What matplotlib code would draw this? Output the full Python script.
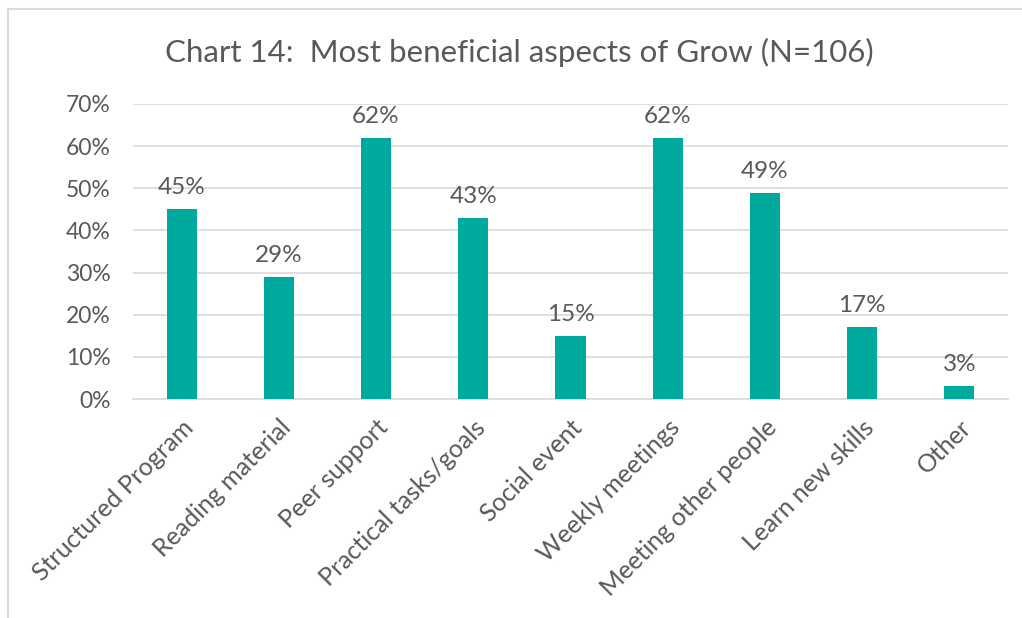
import matplotlib.pyplot as plt
from matplotlib.lines import Line2D
from matplotlib.ticker import FuncFormatter

categories = ["Structured Program", "Reading material", "Peer support",
              "Practical tasks/goals", "Social event", "Weekly meetings",
              "Meeting other people", "Learn new skills", "Other"]
values = [45, 29, 62, 43, 15, 62, 49, 17, 3]
yticks = [0, 10, 20, 30, 40, 50, 60, 70]

grey = "#595959"
teal = "#00A99D"

plt.rcParams["font.family"] = ["Lato", "DejaVu Sans"]

fig = plt.figure(figsize=(10.22, 6.18), dpi=100)
ax = fig.add_axes([133 / 1022, 1 - 399 / 618, 875 / 1022, 295 / 618])

x = range(len(categories))
ax.bar(x, values, width=0.31, color=teal, zorder=3)
for xi, v in zip(x, values):
    ax.text(xi, v + 2.6, f"{v}%", ha="center", va="bottom", fontsize=17.5, color=grey)

ax.set_xlim(-0.5, len(categories) - 0.5)
ax.set_ylim(0, 70)
ax.set_yticks(yticks)
ax.yaxis.set_major_formatter(FuncFormatter(lambda v, p: f"{v:.0f}%"))
ax.grid(axis="y", color="#d9d9d9", linewidth=1.2, zorder=0)
for s in ["top", "right", "left"]:
    ax.spines[s].set_visible(False)
ax.spines["bottom"].set_color("#d9d9d9")
ax.spines["bottom"].set_linewidth(1.2)
ax.tick_params(axis="both", length=0, colors=grey, labelsize=16.5)
ax.tick_params(axis="y", pad=16)
ax.tick_params(axis="x", pad=12)
ax.set_xticks(list(x))
ax.set_xticklabels(categories, rotation=45, ha="right", rotation_mode="anchor",
                   fontsize=18)

fig.text(0.508, 1 - 52 / 618, "Chart 14:  Most beneficial aspects of Grow (N=106)",
         ha="center", va="center", fontsize=22.5, color=grey)

# light frame along the top and left edges of the chart
top = 1 - 9 / 618
left = 8 / 1022
fig.lines.append(Line2D([left, 1], [top, top], transform=fig.transFigure,
                        color="#d9d9d9", linewidth=1.5))
fig.lines.append(Line2D([left, left], [0, top], transform=fig.transFigure,
                        color="#d9d9d9", linewidth=1.5))

fig.savefig("out.png", dpi=100)
